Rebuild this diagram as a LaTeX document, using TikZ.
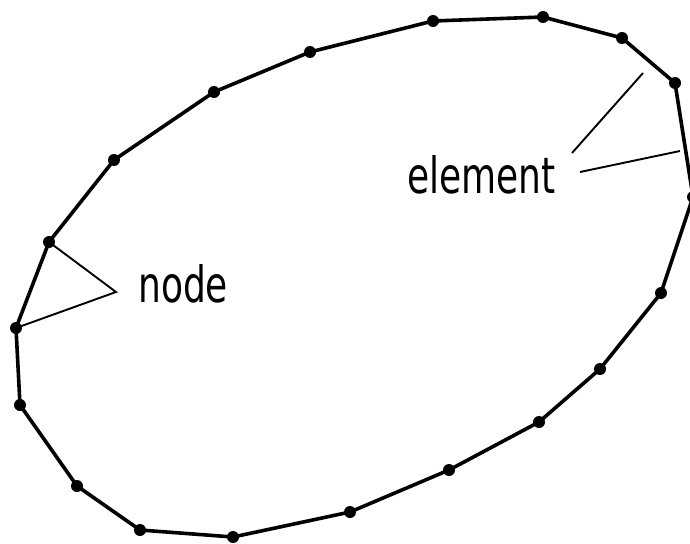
\documentclass[tikz,border=0pt]{standalone}
\usepackage{fontspec}
\newfontfamily\labelfont{DejaVu Sans}
\begin{document}
\begin{tikzpicture}[x=1pt,y=-1pt,
  outline/.style={line width=3.6pt,line join=round},
  leader/.style={line width=1.9pt},
  dot/.style={circle,fill=black,inner sep=0pt,minimum size=12pt},
  lbl/.style={inner sep=0pt,font=\labelfont\fontsize{50}{50}\selectfont}]
\useasboundingbox (0,0) rectangle (690,543);
\fill[white] (0,0) rectangle (690,543);
\foreach \n/\x/\y in {1/49/242,2/16/328,3/20/405,4/77/486,5/140/530,6/233/537,
  7/350/512,8/449/470,9/539/422,10/600/369,11/661/293,12/693/197,13/675/83,
  14/622/38,15/543/17,16/433/21,17/310/52,18/214/92,19/114/160}
  \coordinate (p\n) at (\x,\y);
\draw[outline] (p1)--(p2)--(p3)--(p4)--(p5)--(p6)--(p7)--(p8)--(p9)--(p10)--(p11)--(p12)--(p13)--(p14)--(p15)--(p16)--(p17)--(p18)--(p19)--cycle;
\foreach \n in {1,...,19} \node[dot] at (p\n) {};
% labels
\node[lbl,anchor=base west] (nodelbl) at (138,302) {\scalebox{0.72}[1]{node}};
\node[lbl,anchor=base west] (ellbl) at (407,193) {\scalebox{0.72}[1]{element}};
\coordinate (apex) at (116,292);
\draw[leader] (p1) -- (apex) -- (p2);
\coordinate (e1a) at (572,153);
\coordinate (e1b) at (643,73);
\coordinate (e2a) at (580,172);
\coordinate (e2b) at (680,151);
\draw[leader] (e1a) -- (e1b);
\draw[leader] (e2a) -- (e2b);
\end{tikzpicture}
\end{document}
